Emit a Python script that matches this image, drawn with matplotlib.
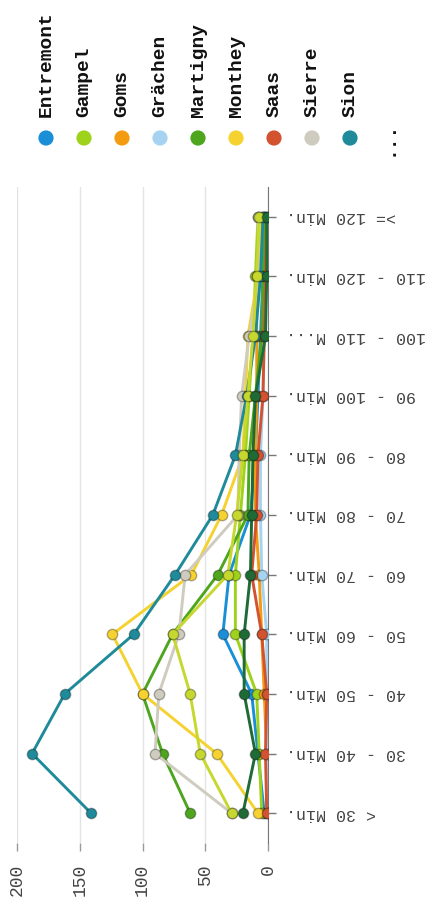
import matplotlib
matplotlib.use("Agg")
import matplotlib.pyplot as plt

# categories, bottom to top
categories = ["< 30 Min.", "30 - 40 Min.", "40 - 50 Min.", "50 - 60 Min.",
              "60 - 70 Min.", "70 - 80 Min.", "80 - 90 Min.", "90 - 100 Min.",
              "100 - 110 M...", "110 - 120 Min.", ">= 120 Min."]

entremont = [3, 8, 13, 36, 31, 14, 10, 8, 6, 4, 3]
gampel = [5, 7, 9, 26, 26, 22, 18, 15, 12, 10, 8]
goms = [1, 1, 3, 5, 7, 10, 10, 9, 9, 9, 4]
graechen = [0, 1, 1, 1, 5, 6, 6, 4, 3, 3, 2]
martigny = [62, 84, 100, 76, 40, 16, 15, 10, 5, 4, 2]
monthey = [8, 41, 100, 124, 61, 37, 20, 18, 16, 8, 5]
saas = [1, 2, 1, 5, 13, 9, 8, 4, 3, 2, 1]
sierre = [29, 90, 87, 71, 66, 24, 23, 21, 15, 7, 8]
sion = [141, 188, 162, 107, 74, 44, 26, 17, 10, 6, 4]
# series hidden behind the "..." in the legend
weitere_1 = [20, 10, 19, 19, 14, 13, 12, 10, 2, 1, 1]
weitere_2 = [29, 54, 62, 76, 32, 25, 20, 16, 12, 9, 7]

series_names = ["Entremont", "Gampel", "Goms", "Grächen", "Martigny",
                "Monthey", "Saas", "Sierre", "Sion"]
series_values = [entremont, gampel, goms, graechen, martigny,
                 monthey, saas, sierre, sion]
series_colors = ["#1a8fd8", "#9fd21b", "#f39c12", "#a6d4f0", "#4ea51e",
                 "#f5d230", "#d35230", "#cfcbbf", "#1e8a9a"]
hidden_values = [weitere_2, weitere_1]
hidden_colors = ["#c6d72f", "#1f6b36"]

value_ticks = [0, 50, 100, 150, 200]

W, H = 433, 909
fig = plt.figure(figsize=(W / 100, H / 100), dpi=100)
fig.patch.set_facecolor("white")
mono = "Liberation Mono"

ax = fig.add_axes([17 / W, 1 - 843 / H, 251 / W, 656 / H])
ypos = list(range(len(categories)))

all_vals = series_values + hidden_values
all_cols = series_colors + hidden_colors
for vals, col in zip(all_vals, all_cols):
    ax.plot(vals, ypos, color=col, lw=2.1, marker="o", ms=7.5,
            markerfacecolor=col, markeredgecolor=(0, 0, 0, 0.3), mew=1,
            solid_capstyle="round", zorder=3)

ax.set_xlim(200, 0)
ax.set_ylim(-0.5, len(categories) - 0.5)
ax.set_xticks(value_ticks)
ax.set_xticklabels([str(v) for v in value_ticks], rotation=90,
                   fontfamily=mono, fontsize=13, color="#444")
ax.set_yticks(ypos)
ax.set_yticklabels(categories, rotation=180, fontfamily=mono, fontsize=12,
                   color="#444", va="center")
ax.yaxis.tick_right()
ax.tick_params(axis="x", length=6, width=1, color="#999", pad=9)
ax.tick_params(axis="y", length=6, width=1, color="#777", pad=7)
for side in ["top", "left", "bottom"]:
    ax.spines[side].set_visible(False)
ax.spines["right"].set_color("#777")
ax.grid(axis="x", color="#e4e4e4", lw=1)
ax.set_axisbelow(True)

# legend row at the top
lg = fig.add_axes([0, 1 - 160 / H, 1, 160 / H])
lg.set_xlim(-46 / 38, (W - 46) / 38)
lg.set_ylim(0, 1)
lg.axis("off")
for i, (name, col) in enumerate(zip(series_names, series_colors)):
    lg.scatter([i], [22 / 160], s=120, color=col, edgecolors="none")
    lg.text(i, 43 / 160, name, rotation=90, ha="center", va="bottom",
            fontfamily=mono, fontweight="bold", fontsize=14, color="#111")
lg.text(len(series_names), 22 / 160, "...", rotation=90, ha="center",
        va="center", fontfamily=mono, fontweight="bold", fontsize=14,
        color="#111")

fig.savefig("out.png", dpi=100)
